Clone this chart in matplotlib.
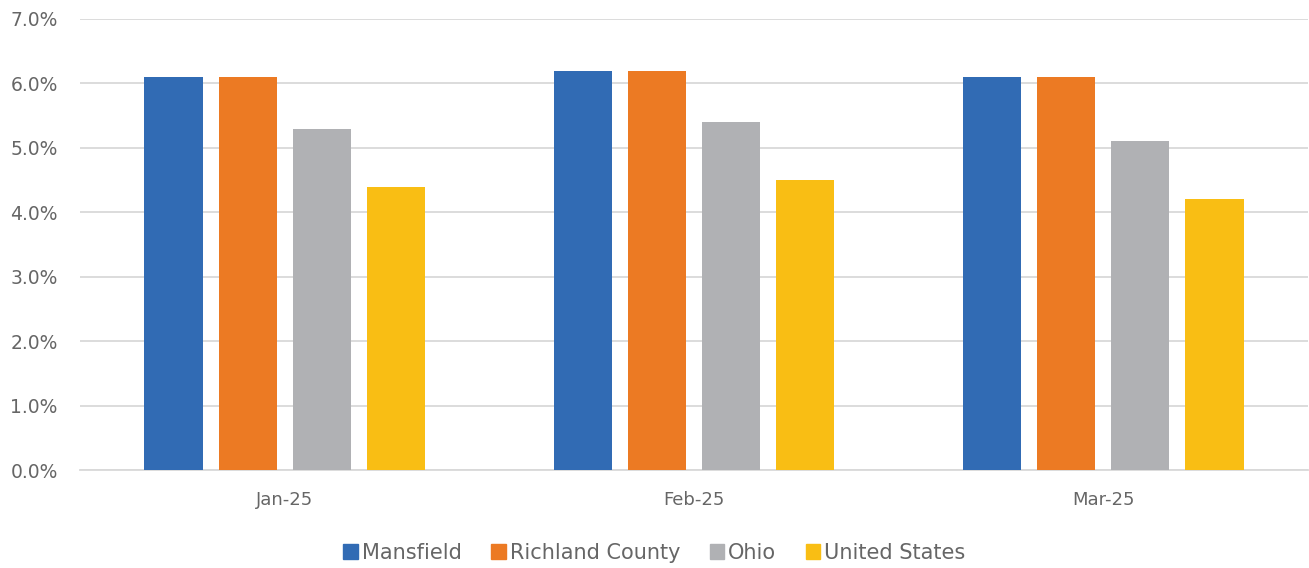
import matplotlib
matplotlib.use("Agg")
import matplotlib.pyplot as plt
import numpy as np
from matplotlib.ticker import FuncFormatter
from matplotlib.patches import Patch

months = ["Jan-25", "Feb-25", "Mar-25"]
series = ["Mansfield", "Richland County", "Ohio", "United States"]
mansfield = [6.1, 6.2, 6.1]
richland = [6.1, 6.2, 6.1]
ohio = [5.3, 5.4, 5.1]
united_states = [4.4, 4.5, 4.2]
colors = ["#316BB4", "#EC7A23", "#B0B1B4", "#F9BE14"]

plt.rcParams['font.family'] = ['DejaVu Sans']
fig = plt.figure(figsize=(13.09, 5.68), dpi=100)
ax = fig.add_axes([80/1309, (568-470)/568, (1308-80)/1309, (470-19)/568])

x = np.arange(len(months))
width = 0.142
pitch = 0.181
data = [mansfield, richland, ohio, united_states]
for i, (vals, c) in enumerate(zip(data, colors)):
    ax.bar(x + (i - 1.5) * pitch, vals, width=width, color=c, zorder=3)

ax.set_xlim(-0.5, 2.5)
ax.set_ylim(0, 7)
ax.set_yticks(np.arange(0, 7.01, 1))
ax.yaxis.set_major_formatter(FuncFormatter(lambda v, p: f"{v:.1f}%"))
ax.grid(axis='y', color='#D9D9D9', linewidth=1.3, zorder=0)
for s in ["top", "right", "left"]:
    ax.spines[s].set_visible(False)
ax.spines["bottom"].set_color('#D9D9D9')
ax.spines["bottom"].set_linewidth(1.3)
ax.set_xticks(x)
ax.set_xticklabels(months)
ax.tick_params(axis='y', length=0, labelsize=13.5, labelcolor='#666666', pad=16)
ax.tick_params(axis='x', length=0, labelsize=13, labelcolor='#666666', pad=15)

handles = [Patch(color=c, label=s) for c, s in zip(colors, series)]
fig.legend(handles=handles, loc='center', bbox_to_anchor=(0.5, (568-553)/568), ncol=4,
           frameon=False, fontsize=15, handlelength=0.7, handleheight=0.7,
           handletextpad=0.2, columnspacing=1.4, labelcolor='#666666')

fig.savefig("out.png", dpi=100)
